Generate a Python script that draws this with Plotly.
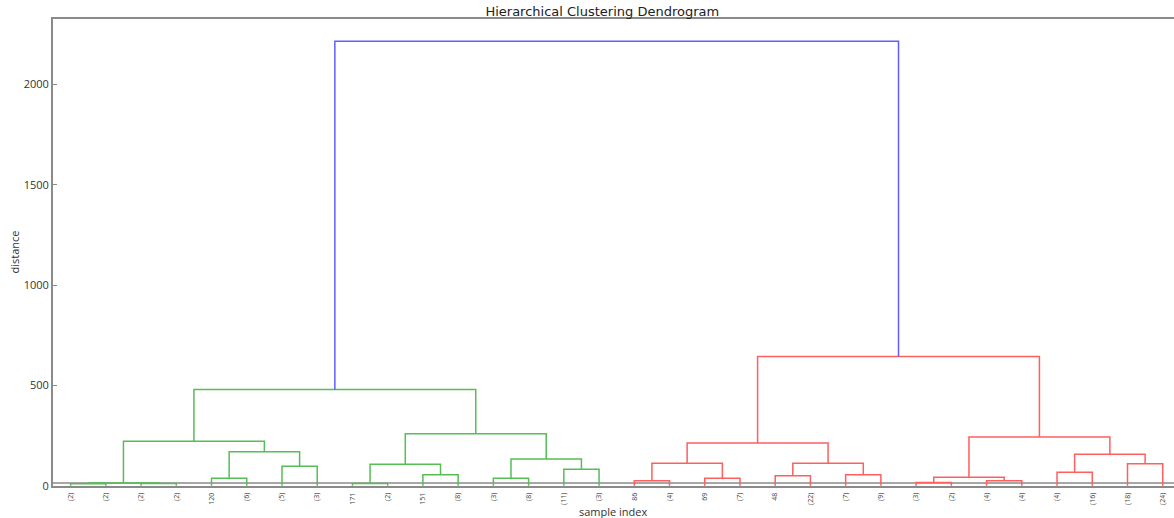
import plotly.graph_objects as go

# ---- data: truncated dendrogram (leaf labels + linkage merges) ----
leaf_labels = ["(2)", "(2)", "(2)", "(2)", "120", "(6)", "(5)", "(3)",
               "171", "(2)", "151", "(8)", "(3)", "(8)", "(11)", "(3)",
               "86", "(4)", "69", "(7)", "48", "(22)", "(7)", "(9)",
               "(3)", "(2)", "(4)", "(4)", "(4)", "(16)", "(18)", "(24)"]

# merges: new node id = 32 + index
merge_left = [0, 2, 32, 4, 6, 35, 34, 8, 10, 39, 12, 14, 42, 41, 38,
              16, 18, 47, 20, 22, 50, 49, 24, 26, 54, 28, 30, 57, 56, 53, 46]
merge_right = [1, 3, 33, 5, 7, 36, 37, 9, 11, 40, 13, 15, 43, 44, 45,
               17, 19, 48, 21, 23, 51, 52, 25, 27, 55, 29, 31, 58, 59, 60, 61]
merge_height = [10, 11, 14, 38, 97, 170, 222, 12, 55, 108, 38, 83, 133, 260, 480,
                25, 38, 113, 50, 55, 113, 213, 17, 25, 43, 67, 110, 157, 243, 645, 2216]
merge_group = ["g"] * 15 + ["r"] * 15 + ["b"]

group_colors = {"g": "rgb(85,190,85)", "r": "rgb(255,95,95)", "b": "rgb(95,95,255)"}

y_ticks = [0, 500, 1000, 1500, 2000]

# ---- build link coordinates like scipy's dendrogram ----
n_leaves = len(leaf_labels)
leaf_x = [5 + 10 * i for i in range(n_leaves)]
node_x = list(leaf_x)
node_y = [0] * n_leaves

fig = go.Figure()
for a, b, h, grp in zip(merge_left, merge_right, merge_height, merge_group):
    xa, xb = node_x[a], node_x[b]
    ya, yb = node_y[a], node_y[b]
    fig.add_trace(go.Scatter(
        x=[xa, xa, xb, xb], y=[ya, h, h, yb], mode="lines",
        line=dict(color=group_colors[grp], width=1.5),
        hoverinfo="skip", showlegend=False))
    node_x.append((xa + xb) / 2)
    node_y.append(h)

ymax = max(merge_height) * 1.05

fig.add_shape(type="line", xref="paper", x0=0, x1=1, yref="y", y0=14, y1=14,
              line=dict(color="#8a8a8a", width=1.5), layer="below")

fig.update_layout(
    width=1174, height=518,
    margin=dict(l=53, r=0, t=19, b=32, autoexpand=False),
    plot_bgcolor="white", paper_bgcolor="white",
    font=dict(family="Open Sans, DejaVu Sans, sans-serif", color="#333333"),
    title=dict(text="Hierarchical Clustering Dendrogram", x=0.49,
               xref="paper", xanchor="center", yref="container",
               y=1 - 11 / 518, yanchor="middle",
               font=dict(family="DejaVu Sans, sans-serif", size=13, color="#222222")),
    showlegend=False,
    annotations=[
        dict(text="sample index", xref="paper", x=0.5, yref="paper",
             y=-25 / 467, xanchor="center", yanchor="middle", showarrow=False,
             font=dict(size=11, color="#333333")),
        dict(text="distance", xref="paper", x=-39 / 1121, yref="paper",
             y=0.5, xanchor="center", yanchor="middle", showarrow=False,
             textangle=-90, font=dict(size=11, color="#333333")),
    ],
)
fig.update_xaxes(
    range=[0, 318.2], tickmode="array", tickvals=leaf_x, ticktext=leaf_labels,
    tickangle=-90, tickfont=dict(size=7, color="#444444"), automargin=False,
    showgrid=False, zeroline=False, showline=True, linecolor="#8a8a8a",
    linewidth=2, mirror=True, ticks="", ticklabelstandoff=2,
)
fig.update_yaxes(
    range=[-1, ymax], tickmode="array", tickvals=y_ticks, automargin=False,
    ticktext=[str(v) for v in y_ticks], tickfont=dict(size=11, color="#333333"),
    showgrid=False, zeroline=False, showline=True, linecolor="#8a8a8a",
    linewidth=2, ticks="inside", ticklen=4, tickcolor="#8a8a8a",
)

fig.write_html("out.html", config={"displayModeBar": False},
               post_script="document.body.style.margin='0';document.body.style.overflow='hidden';")
